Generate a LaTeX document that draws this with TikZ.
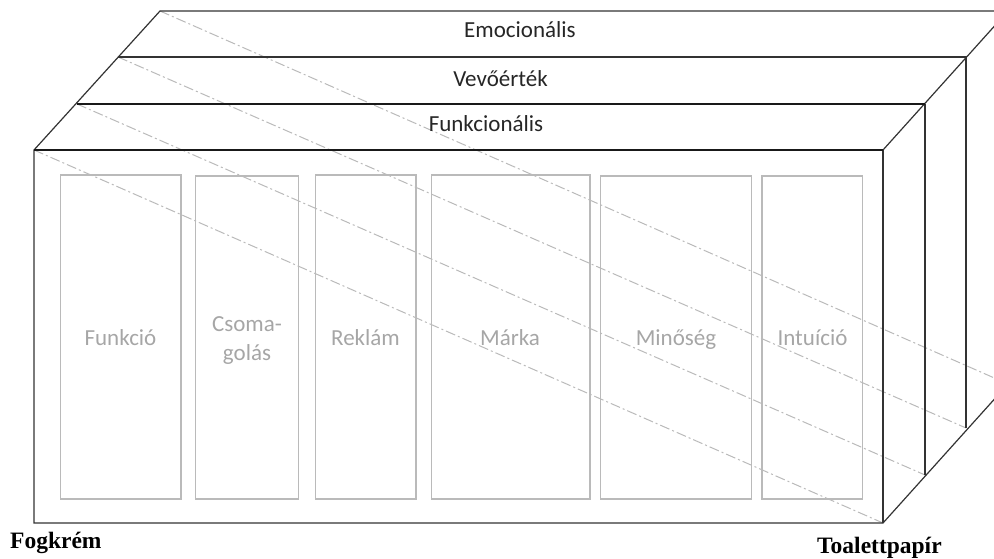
\documentclass[tikz,border=0pt]{standalone}
\usepackage{fontspec}
\newfontfamily\calfont{Carlito}
\newfontfamily\serffont{Liberation Serif}
\begin{document}
\begin{tikzpicture}[x=1pt,y=-1pt,
  edge/.style={draw=black!80,line width=1.2pt},
  thickedge/.style={draw=black!90,line width=1.9pt},
  diag/.style={draw=black!27,line width=1pt,dash pattern=on 10pt off 3pt on 2pt off 3pt},
  cat/.style={draw=black!27,line width=1.2pt,inner sep=0pt},
  lbl/.style={font=\calfont\fontsize{23}{28}\selectfont,text=black!85,anchor=base,inner sep=0pt},
  catlbl/.style={font=\calfont\fontsize{23}{28}\selectfont,text=black!35,anchor=base,inner sep=0pt},
  endlbl/.style={font=\serffont\bfseries\fontsize{23.5}{28}\selectfont,text=black,anchor=base west,inner sep=0pt}]
\useasboundingbox (0,0) rectangle (994,559);
\begin{scope}
\clip (0,0) rectangle (994,559);
% corner coordinates
\coordinate (f1) at (34,150);  \coordinate (f2) at (883,150);
\coordinate (f3) at (883,523); \coordinate (f4) at (34,523);
\coordinate (a1) at (77,104);  \coordinate (a2) at (925,104); \coordinate (a3) at (925,475);
\coordinate (b1) at (118,57);  \coordinate (b2) at (966,57);  \coordinate (b3) at (966,428);
\coordinate (c1) at (160,11);  \coordinate (c2) at (1008,11); \coordinate (c3) at (1008,384);
% category boxes
\node[cat,minimum width=120.5pt,minimum height=324pt] (k1) at (120.75,337) {};
\node[cat,minimum width=103pt,minimum height=323pt] (k2) at (247,337.5) {};
\node[cat,minimum width=100.5pt,minimum height=324pt] (k3) at (365.75,337) {};
\node[cat,minimum width=158.5pt,minimum height=324pt] (k4) at (510.75,337) {};
\node[cat,minimum width=151pt,minimum height=323pt] (k5) at (676,337.5) {};
\node[cat,minimum width=100.5pt,minimum height=323pt] (k6) at (812.25,337.5) {};
% diagonal dash-dot lines
\draw[diag] (f1) -- (f3);
\draw[diag] (a1) -- (a3);
\draw[diag] (b1) -- (b3);
\draw[diag] (c1) -- (c3);
% box outlines
\draw[edge] (c2) -- (c1) -- (f1) -- (f4) -- (f3) -- (c3);
\draw[edge] (b1) -- (b2) -- (b3);
\draw[edge] (a3) -- (a2);
\draw[edge] (f2) -- (f3);
\draw[edge] (f2) -- (c2);
\draw[thickedge] (a1) -- (a2);
\draw[thickedge] (f1) -- (f2);
\end{scope}
% layer labels
\node[lbl] (emo) at (520,38) {Emocionális};
\node[lbl] (vev) at (500.5,87) {Vevőérték};
\node[lbl] (fun) at (486,132) {Funkcionális};
% category labels
\node[catlbl] (l1) at (120.5,345) {Funkció};
\node[catlbl] (l2a) at (247,331) {Csoma-};
\node[catlbl] (l2b) at (247,360) {golás};
\node[catlbl] (l3) at (365.5,345) {Reklám};
\node[catlbl] (l4) at (510,345) {Márka};
\node[catlbl] (l5) at (676,345) {Minőség};
\node[catlbl] (l6) at (812.5,345) {Intuíció};
% end labels
\node[endlbl] (fog) at (10,548) {Fogkrém};
\node[endlbl] (toa) at (817,553) {Toalettpapír};
\end{tikzpicture}
\end{document}
